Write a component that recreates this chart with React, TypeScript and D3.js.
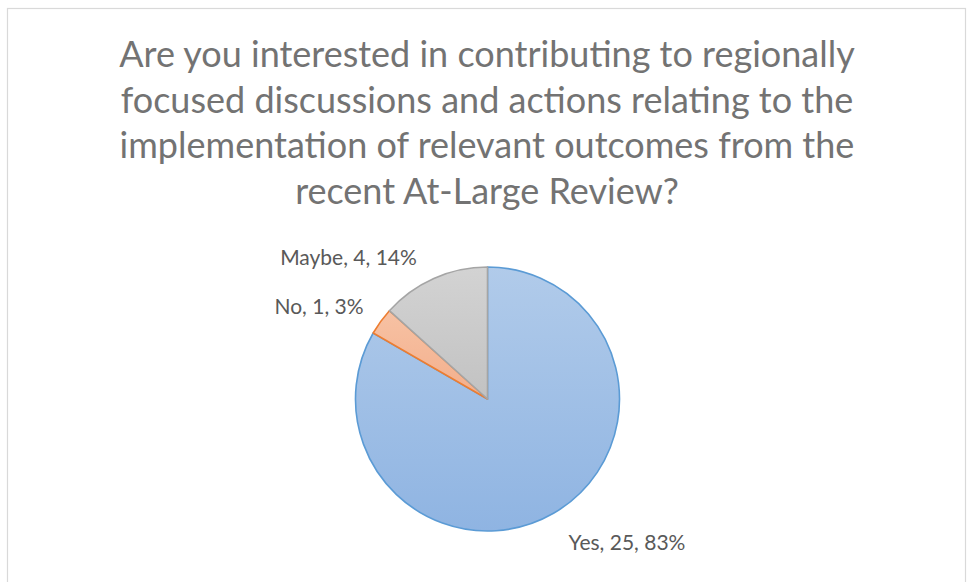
import React from 'react'
import * as d3 from 'd3'

const titleLines = [
  'Are you interested in contributing to regionally',
  'focused discussions and actions relating to the',
  'implementation of relevant outcomes from the',
  'recent At-Large Review?'
]

const categories = ['Yes', 'No', 'Maybe']
const counts = [25, 1, 4]
const percents = ['83%', '3%', '14%']

const fills = [
  ['#b1cbea', '#8fb4e2'],
  ['#f7c2a4', '#f3ae8b'],
  ['#d3d3d3', '#c2c2c2']
]
const strokes = ['#5b9bd5', '#ed7d31', '#a5a5a5']

const width = 967
const height = 582
const cx = 487.5
const cy = 399
const radius = 132

// where Excel put the data labels (centre of each label)
const labelPos = [
  { x: 627, y: 543 },
  { x: 319, y: 307 },
  { x: 348.5, y: 258 }
]

export default function App() {
  const pie = d3
    .pie<number>()
    .sort(null)
    .value(d => d)
  const arcs = pie(counts)
  const arcGen = d3.arc<d3.PieArcDatum<number>>().innerRadius(0).outerRadius(radius)

  return (
    <svg
      width={width}
      height={height}
      style={{ position: 'absolute', left: 0, top: 0, background: '#fff' }}
      fontFamily='Lato, "Open Sans", sans-serif'>
      <defs>
        {fills.map((f, i) => (
          <linearGradient key={i} id={`g${i}`} x1='0' y1='0' x2='0' y2='1'>
            <stop offset='0%' stopColor={f[0]} />
            <stop offset='100%' stopColor={f[1]} />
          </linearGradient>
        ))}
      </defs>
      <rect x={7.5} y={8.5} width={958} height={600} fill='#fff' stroke='#d9d9d9' strokeWidth={1.2} />

      <g fill='#737373' fontSize={36} textAnchor='middle'>
        {titleLines.map((t, i) => (
          <text key={i} x={487} y={67 + i * 45.5}>
            {t}
          </text>
        ))}
      </g>

      <g transform={`translate(${cx},${cy})`}>
        {arcs.map((a, i) => (
          <path
            key={i}
            d={arcGen(a) || ''}
            fill={`url(#g${i})`}
            stroke={strokes[i]}
            strokeWidth={1.6}
            strokeLinejoin='round'
          />
        ))}
      </g>

      <g fill='#595959' fontSize={21} textAnchor='middle'>
        {arcs.map((a, i) => (
          <text key={i} x={labelPos[i].x} y={labelPos[i].y} dy='.35em'>
            {`${categories[i]}, ${counts[i]}, ${percents[i]}`}
          </text>
        ))}
      </g>
    </svg>
  )
}
